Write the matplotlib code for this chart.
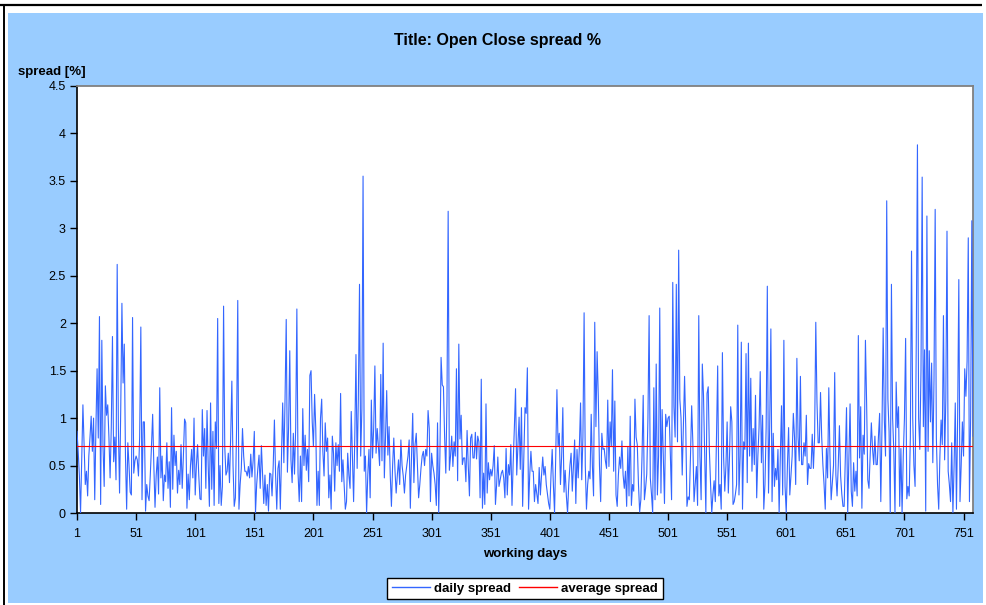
import matplotlib
matplotlib.use("Agg")
import matplotlib.pyplot as plt
from matplotlib.patches import Rectangle
from matplotlib.lines import Line2D

plt.rcParams['font.family'] = ['Liberation Sans', 'DejaVu Sans']

# ---------------- data ----------------
daily_spread = [
    # days 1-100
    0.86, 0.65, 0.40, 0.00, 0.55, 1.14, 0.70, 0.30, 0.44, 0.18,
    0.60, 0.80, 1.02, 0.65, 1.00, 0.14, 0.90, 1.52, 0.79, 2.07,
    0.09, 1.82, 0.70, 0.28, 1.34, 1.03, 1.14, 0.80, 0.37, 0.90,
    1.86, 0.54, 0.80, 0.35, 2.62, 0.90, 0.21, 1.10, 2.21, 1.37,
    1.78, 0.60, 0.04, 0.74, 0.50, 0.22, 0.19, 2.06, 0.42, 0.55,
    0.60, 0.56, 0.39, 0.80, 1.96, 0.14, 0.96, 0.96, 0.02, 0.30,
    0.18, 0.13, 0.40, 0.70, 1.04, 0.50, 0.06, 0.40, 0.59, 0.20,
    1.32, 0.37, 0.60, 0.13, 0.40, 0.33, 0.74, 0.26, 0.54, 0.06,
    1.11, 0.25, 0.82, 0.50, 0.65, 0.21, 0.45, 0.30, 0.72, 0.26,
    0.60, 0.99, 0.95, 0.05, 0.41, 0.14, 0.50, 0.67, 0.37, 1.00,
    # days 101-193
    0.19, 0.50, 0.72, 0.40, 0.15, 0.14, 1.09, 0.60, 0.89, 0.26,
    1.08, 0.50, 0.07, 1.16, 0.25, 0.86, 0.08, 0.96, 0.68, 2.05,
    0.10, 0.50, 0.08, 0.28, 2.18, 0.70, 0.40, 0.44, 0.63, 0.32,
    0.80, 1.39, 0.50, 0.07, 0.16, 0.90, 2.24, 0.04, 0.30, 0.47,
    0.89, 0.60, 0.44, 0.44, 0.39, 0.49, 0.37, 0.62, 0.38, 0.55,
    0.86, 0.00, 0.30, 0.47, 0.61, 0.26, 0.71, 0.40, 0.10, 0.40,
    0.08, 0.30, 0.02, 0.42, 0.41, 0.18, 0.50, 0.98, 0.40, 0.04,
    0.47, 0.55, 0.04, 0.60, 1.16, 0.53, 1.20, 2.04, 0.43, 0.90,
    1.71, 0.56, 0.32, 0.84, 0.41, 0.90, 2.15, 0.42, 0.12, 0.60,
    0.12, 1.10, 0.50,
    # days 194-290
    0.82, 0.45, 0.67, 0.33, 1.45, 1.50, 0.96, 0.70, 1.25, 0.89,
    0.08, 0.44, 0.08, 1.00, 1.20, 0.65, 0.39, 0.95, 0.65, 0.79,
    0.16, 0.40, 0.04, 0.81, 0.63, 0.23, 0.74, 0.50, 0.72, 0.44,
    1.26, 0.33, 0.56, 0.30, 0.04, 0.12, 0.63, 0.40, 0.26, 1.07,
    0.60, 0.12, 0.80, 1.67, 0.47, 1.20, 2.41, 0.60, 1.10, 3.55,
    0.44, 0.60, 0.00, 0.40, 0.67, 0.16, 1.19, 0.58, 0.90, 1.55,
    0.63, 0.89, 0.70, 0.50, 1.46, 0.55, 1.79, 0.37, 0.80, 1.29,
    0.61, 0.91, 0.40, 0.07, 0.50, 0.79, 0.45, 0.21, 0.40, 0.56,
    0.30, 0.77, 0.50, 0.39, 0.21, 0.40, 0.50, 0.60, 0.77, 0.05,
    0.60, 1.05, 0.32, 0.72, 0.84, 0.50, 0.16,
    # days 291-388
    0.30, 0.47, 0.60, 0.65, 0.50, 0.67, 0.60, 1.08, 0.89, 0.12,
    0.63, 0.50, 0.42, 0.30, 0.08, 0.95, 0.00, 0.60, 1.64, 1.35,
    1.33, 0.80, 0.42, 1.20, 3.18, 0.45, 0.60, 0.81, 0.49, 0.75,
    0.60, 1.52, 0.34, 1.78, 0.78, 1.03, 0.51, 0.58, 0.58, 0.33,
    0.87, 0.50, 0.18, 0.79, 0.83, 0.58, 0.58, 0.85, 0.57, 0.81,
    0.75, 0.16, 1.41, 0.05, 0.42, 0.09, 1.15, 0.21, 0.53, 0.35,
    0.46, 0.39, 0.50, 0.71, 0.09, 0.30, 0.59, 0.28, 0.35, 0.42,
    0.45, 0.37, 0.16, 0.68, 0.19, 0.51, 0.40, 0.72, 0.08, 0.53,
    0.90, 1.31, 0.40, 0.70, 1.01, 0.46, 1.11, 0.07, 0.60, 1.11,
    1.05, 1.53, 0.04, 0.40, 0.65, 0.44, 0.44, 0.12,
    # days 389-485
    0.30, 0.20, 0.10, 0.48, 0.19, 0.40, 0.59, 0.40, 0.49, 0.30,
    0.20, 0.10, 0.04, 0.40, 0.67, 0.30, 0.00, 0.60, 1.30, 0.70,
    0.84, 0.30, 0.60, 1.11, 0.22, 0.45, 0.18, 0.00, 0.30, 0.50,
    0.63, 0.23, 0.50, 0.77, 0.10, 0.67, 0.37, 0.70, 1.16, 0.35,
    0.80, 2.11, 0.50, 0.04, 0.30, 0.44, 0.36, 1.04, 0.50, 0.18,
    2.01, 0.91, 1.70, 1.23, 0.50, 0.12, 0.84, 0.67, 0.68, 0.55,
    0.47, 1.19, 0.49, 0.96, 0.70, 1.51, 0.44, 1.18, 0.19, 0.07,
    0.40, 0.59, 0.47, 0.76, 0.40, 0.26, 0.44, 0.07, 0.70, 0.18,
    1.02, 0.08, 0.30, 0.23, 1.20, 0.80, 0.72, 0.30, 0.01, 0.14,
    0.60, 1.24, 0.14, 0.26, 0.41, 1.00, 2.08,
    # days 486-581
    0.37, 0.20, 0.00, 1.32, 0.14, 1.57, 0.19, 0.60, 2.16, 0.21,
    1.09, 0.60, 0.10, 1.04, 0.91, 1.00, 1.02, 0.60, 0.14, 2.43,
    1.12, 0.80, 2.41, 0.75, 2.77, 1.20, 1.00, 0.40, 0.90, 1.44,
    0.90, 0.07, 0.17, 0.14, 0.60, 1.13, 0.74, 0.12, 0.30, 0.49,
    0.08, 2.08, 0.60, 0.14, 1.57, 1.24, 0.60, 0.00, 1.26, 1.33,
    0.65, 0.30, 0.00, 0.20, 0.34, 0.12, 0.80, 1.55, 0.18, 0.30,
    0.04, 1.69, 0.60, 0.23, 0.50, 0.96, 0.21, 0.60, 1.12, 0.96,
    0.09, 0.12, 0.20, 0.30, 1.98, 0.19, 0.60, 1.80, 0.04, 0.75,
    0.67, 1.68, 0.32, 1.79, 0.60, 1.42, 0.44, 0.89, 0.51, 1.24,
    0.16, 0.60, 0.90, 1.49, 0.53, 1.03,
    # days 582-680
    0.04, 0.30, 0.90, 2.39, 0.21, 0.90, 1.94, 0.12, 0.84, 0.28,
    0.47, 0.35, 0.67, 0.00, 0.60, 1.13, 0.19, 1.82, 0.28, 0.00,
    0.50, 0.90, 0.19, 0.39, 0.60, 1.05, 0.80, 0.30, 1.63, 0.80,
    0.55, 1.44, 0.51, 0.51, 0.74, 0.60, 1.03, 0.30, 0.52, 0.47,
    0.47, 0.83, 0.47, 0.80, 2.01, 1.17, 0.74, 0.74, 1.27, 0.80,
    0.51, 0.30, 0.04, 0.68, 0.37, 1.32, 0.60, 0.14, 0.32, 0.50,
    1.48, 0.40, 0.18, 0.50, 0.92, 0.39, 0.20, 0.07, 0.07, 0.60,
    1.11, 0.00, 0.60, 1.15, 0.23, 0.07, 0.53, 0.23, 0.44, 0.18,
    1.87, 0.58, 1.12, 0.05, 0.82, 0.62, 1.82, 1.16, 0.35, 0.26,
    0.60, 0.95, 0.68, 0.51, 0.81, 0.51, 0.51, 0.80, 1.05,
    # days 681-759
    0.12, 0.90, 1.95, 0.98, 0.60, 3.29, 1.20, 0.86, 0.00, 2.41,
    1.00, 0.65, 0.00, 1.38, 0.90, 1.12, 0.07, 0.68, 0.00, 0.60,
    1.00, 1.84, 0.15, 0.28, 0.18, 0.80, 2.76, 1.00, 0.50, 0.28,
    1.80, 3.88, 1.00, 0.67, 1.50, 3.54, 0.91, 1.72, 0.02, 3.13,
    0.65, 1.71, 0.96, 1.58, 0.53, 1.40, 3.20, 0.79, 0.30, 0.04,
    0.60, 0.98, 0.72, 2.08, 0.56, 1.20, 2.97, 0.44, 0.30, 0.12,
    0.74, 0.00, 0.50, 1.16, 0.04, 1.00, 2.46, 0.12, 0.50, 0.96,
    0.60, 1.52, 1.23, 1.60, 2.90, 0.12, 1.00, 3.08, 0.81,
]
average_value = 0.71
days = list(range(1, len(daily_spread) + 1))
average_spread = [average_value] * len(days)

x_ticks = list(range(1, 752, 50))
y_ticks = [0, 0.5, 1, 1.5, 2, 2.5, 3, 3.5, 4, 4.5]
y_tick_labels = ['0', '0.5', '1', '1.5', '2', '2.5', '3', '3.5', '4', '4.5']

title_text = 'Title: Open Close spread %'
ylabel_text = 'spread [%]'
xlabel_text = 'working days'
series_names = ['daily spread', 'average spread']

# ---------------- figure ----------------
W, H = 986, 605
fig = plt.figure(figsize=(W / 100, H / 100), dpi=100)
fig.patch.set_facecolor('white')


def fx(px):
    return px / W


def fy(py):
    return 1 - py / H


# background layer (light blue chart area + outer frame lines)
bg = fig.add_axes([0, 0, 1, 1], zorder=-10)
bg.set_xlim(0, W)
bg.set_ylim(H, 0)
bg.axis('off')
bg.add_patch(Rectangle((8, 13), 983 - 8, 603 - 13, facecolor='#99CCFF',
                       edgecolor='none'))
bg.plot([0, 982], [5, 5], color='black', linewidth=1.6, solid_capstyle='butt')
bg.plot([3.5, 3.5], [5, H], color='black', linewidth=1.4, solid_capstyle='butt')

ax = fig.add_axes([fx(77), fy(513), fx(973) - fx(77), fy(86) - fy(513)], zorder=1)
ax.set_facecolor('white')

blue = '#3366FF'
red = '#FF0000'
ax.plot(days, daily_spread, color=blue, linewidth=0.8, zorder=3)
ax.plot(days, average_spread, color=red, linewidth=0.8, zorder=4)

ax.set_xlim(1, len(days))
ax.set_ylim(0, 4.5)
ax.set_xticks(x_ticks)
ax.set_xticklabels([str(t) for t in x_ticks], fontsize=9)
ax.set_yticks(y_ticks)
ax.set_yticklabels(y_tick_labels, fontsize=9)
ax.tick_params(axis='both', direction='out', length=5, width=1, color='black', pad=6)
ax.tick_params(axis='y', pad=3)

for side in ['left', 'bottom']:
    ax.spines[side].set_color('black')
    ax.spines[side].set_linewidth(1.2)
for side in ['top', 'right']:
    ax.spines[side].set_color('#808080')
    ax.spines[side].set_linewidth(1.3)

fig.text(fx(498), fy(40), title_text, ha='center', va='center',
         fontsize=11.5, fontweight='bold')
fig.text(fx(18), fy(72), ylabel_text, ha='left', va='center',
         fontsize=9.5, fontweight='bold')
fig.text(fx(525), fy(554), xlabel_text, ha='center', va='center',
         fontsize=9.5, fontweight='bold')

handles = [Line2D([0, 1], [0, 0], color=blue, linewidth=1.0),
           Line2D([0, 1], [0, 0], color=red, linewidth=1.0)]
leg = fig.legend(handles, series_names, loc='center', bbox_to_anchor=(fx(525), fy(588.5)),
                 ncol=2, frameon=True, fancybox=False, framealpha=1,
                 edgecolor='black', fontsize=9.5, handlelength=2.9,
                 handletextpad=0.3, columnspacing=0.6, borderpad=0.35,
                 borderaxespad=0)
leg.get_frame().set_linewidth(1.0)
for t in leg.get_texts():
    t.set_fontweight('bold')

fig.savefig('out.png', dpi=100, facecolor=fig.get_facecolor())
